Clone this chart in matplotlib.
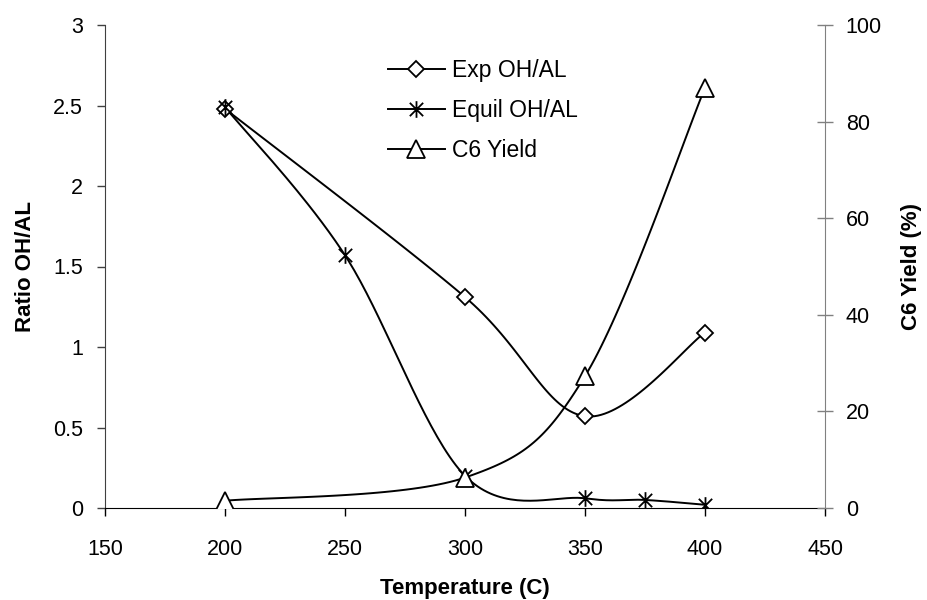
import numpy as np
import matplotlib
matplotlib.use('Agg')
import matplotlib.pyplot as plt
from matplotlib.path import Path

plt.rcParams['font.family'] = ['Liberation Sans', 'DejaVu Sans']

# Data
temp_exp = [200, 300, 350, 400]
exp_ratio = [2.48, 1.31, 0.57, 1.09]

temp_equil = [200, 250, 300, 350, 375, 400]
equil_ratio = [2.49, 1.57, 0.20, 0.06, 0.05, 0.02]

temp_yield = [200, 300, 350, 400]
c6_yield = [1.5, 6.3, 27.3, 87.0]

x_ticks = [150, 200, 250, 300, 350, 400, 450]
left_ticks = [0, 0.5, 1, 1.5, 2, 2.5, 3]
left_labels = ['0', '0.5', '1', '1.5', '2', '2.5', '3']
right_ticks = [0, 20, 40, 60, 80, 100]


def smooth(ax, xs, ys, n=40):
    """Excel-like smoothed line: Catmull-Rom bezier done in pixel space."""
    fig = ax.figure
    bbox = ax.get_position()
    W = fig.get_figwidth() * fig.dpi * bbox.width
    H = fig.get_figheight() * fig.dpi * bbox.height
    x0, x1 = ax.get_xlim()
    y0, y1 = ax.get_ylim()
    px = (np.asarray(xs, float) - x0) / (x1 - x0) * W
    py = (np.asarray(ys, float) - y0) / (y1 - y0) * H
    P = np.column_stack([px, py])
    P = np.vstack([P[0], P, P[-1]])
    t = np.linspace(0, 1, n)[:, None]
    out = []
    for i in range(1, len(P) - 2):
        p0, p1, p2, p3 = P[i - 1], P[i], P[i + 1], P[i + 2]
        c1 = p1 + (p2 - p0) / 6.0
        c2 = p2 - (p3 - p1) / 6.0
        seg = ((1 - t) ** 3) * p1 + 3 * ((1 - t) ** 2) * t * c1 \
            + 3 * (1 - t) * t ** 2 * c2 + t ** 3 * p2
        out.append(seg)
    seg = np.vstack(out)
    sx = seg[:, 0] / W * (x1 - x0) + x0
    sy = seg[:, 1] / H * (y1 - y0) + y0
    return sx, sy


# asterisk marker like Excel's: vertical bar plus an X
star = Path([(0, -1), (0, 1), (-0.8, -0.8), (0.8, 0.8), (-0.8, 0.8), (0.8, -0.8)],
            [Path.MOVETO, Path.LINETO, Path.MOVETO, Path.LINETO, Path.MOVETO, Path.LINETO])

fig = plt.figure(figsize=(9.27, 6.0), dpi=100)
ax = fig.add_axes([105 / 927, 1 - 508 / 600, 720 / 927, 483 / 600])
ax.set_xlim(150, 450)
ax.set_ylim(0, 3)
ax2 = ax.twinx()
ax2.set_ylim(0, 100)

lw = 1.4
mk = dict(markerfacecolor='white', markeredgecolor='black', markeredgewidth=1.3)

sx, sy = smooth(ax, temp_exp, exp_ratio)
ax.plot(sx, sy, color='black', lw=lw, zorder=3)
ax.plot(temp_exp, exp_ratio, ls='none', marker='D', markersize=8.5, zorder=4, **mk)

sx, sy = smooth(ax, temp_equil, equil_ratio)
ax.plot(sx, sy, color='black', lw=lw, zorder=3)
ax.plot(temp_equil, equil_ratio, ls='none', marker=star, markersize=12, zorder=4, **mk)

sx, sy = smooth(ax2, temp_yield, c6_yield)
ax2.plot(sx, sy, color='black', lw=lw, zorder=3)
ax2.plot(temp_yield, c6_yield, ls='none', marker='^', markersize=12.5, zorder=4, **mk)

# legend handles
h1, = ax2.plot([], [], color='black', lw=lw, marker='D', markersize=8.5, **mk)
h2, = ax2.plot([], [], color='black', lw=lw, marker=star, markersize=12, **mk)
h3, = ax2.plot([], [], color='black', lw=lw, marker='^', markersize=12.5, **mk)
ax2.legend([h1, h2, h3], ['Exp OH/AL', 'Equil OH/AL', 'C6 Yield'],
           loc='upper left', bbox_to_anchor=(364 / 927, 1 - 42 / 600),
           frameon=False, fontsize=16.5, handlelength=2.5, handletextpad=0.3,
           labelspacing=0.75, borderpad=0, borderaxespad=0)

# axes styling
ax.set_xticks(x_ticks)
ax.set_yticks(left_ticks)
ax.set_yticklabels(left_labels)
ax2.set_yticks(right_ticks)
ax.tick_params(axis='x', direction='out', length=6, width=1, pad=16, labelsize=15.5)
ax.tick_params(axis='y', direction='out', length=6, width=1, pad=10, labelsize=15.5,
               color='#404040')
ax2.tick_params(axis='y', direction='inout', length=12, width=1, pad=9, labelsize=15.5,
                color='#808080')

for a in (ax, ax2):
    a.spines['top'].set_visible(False)
ax.spines['right'].set_visible(False)
ax2.spines['left'].set_visible(False)
ax2.spines['bottom'].set_visible(False)
ax.spines['left'].set_color('#404040')
ax2.spines['right'].set_color('#808080')
ax.spines['bottom'].set_color('black')

fig.text(465 / 927, 1 - 594 / 600, 'Temperature (C)', fontsize=16, fontweight='bold',
         ha='center', va='baseline')
ax.set_ylabel('Ratio OH/AL', fontsize=16, fontweight='bold', labelpad=12)
ax2.set_ylabel('C6 Yield (%)', fontsize=16, fontweight='bold', labelpad=14)

fig.savefig('out.png', dpi=100)
